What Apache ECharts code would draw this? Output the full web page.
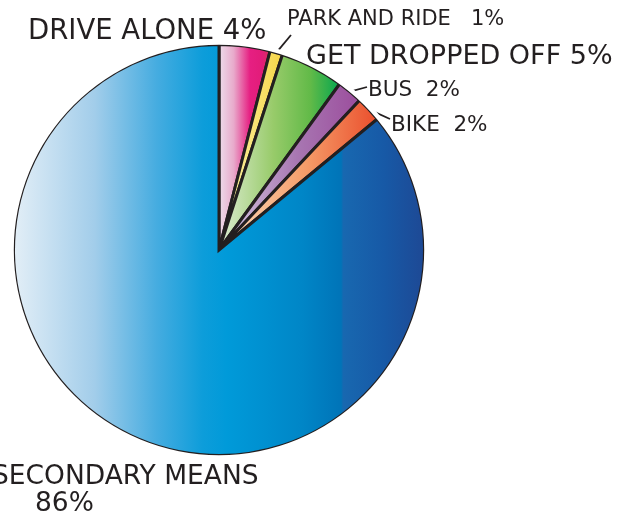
<!DOCTYPE html>
<html>
<head>
<meta charset="utf-8">
<script src="https://cdn.jsdelivr.net/npm/echarts@6/dist/echarts.min.js"></script>
<style>
  html, body { margin: 0; padding: 0; background: #ffffff; }
  #chart { width: 631px; height: 517px; }
</style>
</head>
<body>
<div id="chart"></div>
<script>
// Travel mode shares (percent), clockwise from 12 o'clock
const categories = ['DRIVE ALONE', 'PARK AND RIDE', 'GET DROPPED OFF', 'BUS', 'BIKE', 'SECONDARY MEANS'];
const shares = [4, 1, 5, 2, 2, 86];

// Horizontal gradient stops for each slice
const sliceGradients = [
  [[0, '#eee2ee'], [0.3, '#e8aacb'], [0.6, '#e61f82'], [0.82, '#e21c79'], [1, '#d7345a']],
  [[0, '#faf6b4'], [1, '#f6d444']],
  [[0, '#dfedd6'], [0.45, '#98cb6a'], [0.75, '#62ba48'], [1, '#00a54f']],
  [[0, '#d9cee6'], [0.55, '#a877b2'], [1, '#9b4c9c']],
  [[0, '#fde0c2'], [0.55, '#f59c68'], [1, '#ea4c2b']],
  [[0, '#e4eff7'], [0.2, '#a2cdea'], [0.35, '#45ace0'], [0.46, '#0d9dda'], [0.52, '#009ad9'],
   [0.7, '#0086c7'], [0.795, '#0074b8'], [0.8, '#1868b0'], [0.9, '#1759a6'], [1, '#1e4894']]
];

// Label placement: left x, middle y, font size, separator, leader-line end
const labelSpots = [
  { x: 28, y: 32, size: 27.5, sep: ' ' },
  { x: 287, y: 20, size: 21, sep: '   ', end: [291, 35] },
  { x: 306, y: 57, size: 27, sep: ' ' },
  { x: 368, y: 90, size: 21.5, sep: '  ', end: [367, 87] },
  { x: 391, y: 125, size: 21.5, sep: '  ', end: [390, 119] },
  { x: -8, y: 491, size: 26.5, sep: '\n' }
];

const ink = '#231f20';
const pieCenter = [219, 250];
const pieRadius = 205.5;

function gradient(stops) {
  return new echarts.graphic.LinearGradient(0, 0, 1, 0,
    stops.map(s => ({ offset: s[0], color: s[1] })));
}

const seriesData = categories.map((name, i) => ({
  name: name,
  value: shares[i],
  itemStyle: { color: gradient(sliceGradients[i]) },
  labelLine: { show: !!labelSpots[i].end },
  label: {
    fontSize: labelSpots[i].size,
    formatter: i === 5
      ? '{a|' + name + '}\n{b|' + shares[i] + '%}'
      : name + labelSpots[i].sep + shares[i] + '%',
    rich: i === 5 ? {
      a: { fontSize: 26.5, fontFamily: 'DejaVu Sans', color: ink, lineHeight: 27 },
      b: { fontSize: 26.5, fontFamily: 'DejaVu Sans', color: ink, lineHeight: 27, padding: [0, 0, 0, 43] }
    } : undefined
  }
}));

const chart = echarts.init(document.getElementById('chart'), null, { renderer: 'canvas' });
chart.setOption({
  animation: false,
  backgroundColor: '#ffffff',
  series: [{
    type: 'pie',
    center: pieCenter,
    radius: pieRadius,
    startAngle: 90,
    clockwise: true,
    avoidLabelOverlap: false,
    z: 2,
    itemStyle: { borderColor: ink, borderWidth: 3, borderJoin: 'miter' },
    label: {
      show: true,
      position: 'outside',
      color: ink,
      fontFamily: 'DejaVu Sans',
      lineHeight: 27
    },
    labelLine: {
      show: true,
      length: 10,
      length2: 4,
      lineStyle: { color: ink, width: 1.8 }
    },
    emphasis: { disabled: true },
    labelLayout: function (params) {
      const spot = labelSpots[params.dataIndex];
      const out = { x: spot.x, y: spot.y, align: 'left', verticalAlign: 'middle' };
      if (spot.end && params.labelLinePoints) {
        const a = params.labelLinePoints[0];
        out.labelLinePoints = [a, spot.end, spot.end];
      }
      return out;
    },
    data: seriesData
  }, {
    // white rim that trims the outer half of the slice outline to a fine line
    type: 'pie',
    center: pieCenter,
    radius: [pieRadius - 0.3, pieRadius + 4],
    silent: true,
    z: 3,
    label: { show: false },
    labelLine: { show: false },
    itemStyle: { color: '#ffffff', borderWidth: 0 },
    emphasis: { disabled: true },
    tooltip: { show: false },
    data: [{ value: 1, name: '' }]
  }]
});
</script>
</body>
</html>
